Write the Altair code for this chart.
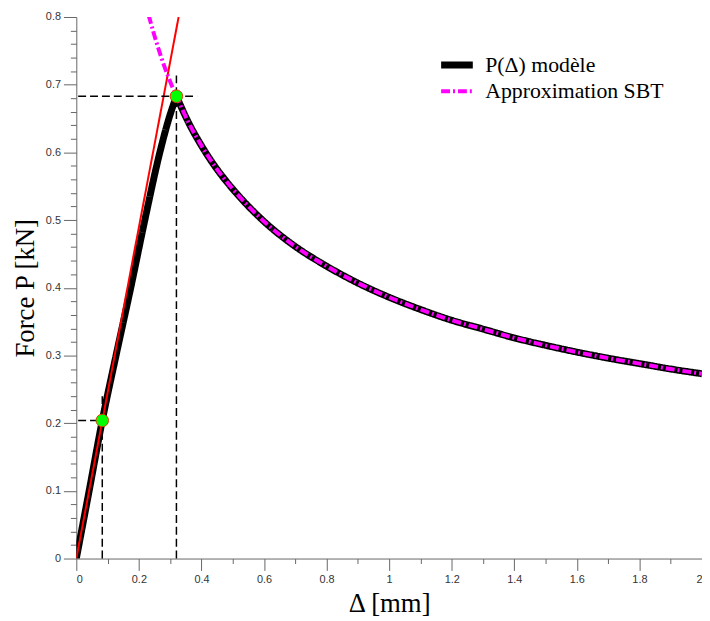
import altair as alt
import pandas as pd

series_names = ["P(Δ) modèle", "Approximation SBT"]

# Model curve: rising branch and post-peak branch
rise_x = [0.0, 0.041, 0.083, 0.127, 0.174, 0.219, 0.267, 0.296, 0.32]
rise_y = [0.0, 0.100, 0.204, 0.300, 0.400, 0.500, 0.600, 0.650, 0.683]

decay_x = [0.32, 0.36, 0.40, 0.45, 0.50, 0.60, 0.70, 0.80, 0.90, 1.00,
           1.10, 1.20, 1.30, 1.40, 1.50, 1.60, 1.70, 1.80, 1.90, 2.00]
decay_y = [0.683, 0.643, 0.610, 0.575, 0.546, 0.498, 0.461, 0.432, 0.407, 0.386,
           0.368, 0.352, 0.339, 0.326, 0.315, 0.305, 0.296, 0.288, 0.280, 0.273]

# SBT approximation
sbt_x = [0.231, 0.25, 0.28, 0.304, 0.32, 0.36, 0.40, 0.45, 0.50, 0.60, 0.70, 0.80,
         0.90, 1.00, 1.10, 1.20, 1.30, 1.40, 1.50, 1.60, 1.70, 1.80, 1.90, 2.00]
sbt_y = [0.803, 0.772, 0.729, 0.700, 0.683, 0.643, 0.610, 0.575, 0.546, 0.498, 0.461,
         0.432, 0.407, 0.386, 0.368, 0.352, 0.339, 0.326, 0.315, 0.305, 0.296, 0.288,
         0.280, 0.273]

# Initial tangent (red)
tangent_x = [0.0, 0.327]
tangent_y = [0.0, 0.8]

# Key points (green)
key_x = [0.083, 0.32]
key_y = [0.204, 0.683]

# Dashed guides
guide_h_x1 = [0.006, 0.006]
guide_h_x2 = [0.083, 0.386]
guide_v_y2 = [0.245, 0.718]

# Ticks
x_major_ticks = [0, 0.2, 0.4, 0.6, 0.8, 1.0, 1.2, 1.4, 1.6, 1.8, 2.0]
x_minor_ticks = [0.1, 0.3, 0.5, 0.7, 0.9, 1.1, 1.3, 1.5, 1.7, 1.9]
y_major_ticks = [0, 0.1, 0.2, 0.3, 0.4, 0.5, 0.6, 0.7, 0.8]
y_minor_ticks = [round(i * 0.02, 2) for i in range(41) if i % 5 != 0]

black_df = pd.DataFrame({
    "x": rise_x + decay_x,
    "y": rise_y + decay_y,
    "serie": series_names[0],
    "part": ["rise"] * len(rise_x) + ["decay"] * len(decay_x),
})
sbt_df = pd.DataFrame({"x": sbt_x, "y": sbt_y, "serie": series_names[1]})
tan_df = pd.DataFrame({"x": tangent_x, "y": tangent_y})
key_df = pd.DataFrame({"x": key_x, "y": key_y})
hguide_df = pd.DataFrame({"x": guide_h_x1, "x2": guide_h_x2, "y": key_y})
vguide_df = pd.DataFrame({"x": key_x, "y": [0, 0], "y2": guide_v_y2})

xs = alt.Scale(domain=[0, 2], nice=False, zero=False)
ys = alt.Scale(domain=[0, 0.8], nice=False, zero=False)

lab = dict(labelFont="Liberation Sans", labelFontSize=11, labelColor="#333333",
           domainColor="#666666", tickColor="#666666", grid=False,
           titleFont="Liberation Serif", titleFontSize=27, titleFontWeight="normal",
           titleColor="black")

x_major = alt.Axis(values=x_major_ticks, tickSize=12, format="~g", labelPadding=3,
                   title="Δ [mm]", titlePadding=6, orient="bottom", **lab)
y_major = alt.Axis(values=y_major_ticks, tickSize=13, format="~g", labelPadding=3,
                   title="Force P [kN]", titlePadding=6, orient="left", **lab)
x_minor = alt.Axis(values=x_minor_ticks, tickSize=5, labels=False, domain=False,
                   tickColor="#666666", grid=False, title=None, orient="bottom")
y_minor = alt.Axis(values=y_minor_ticks, tickSize=6, labels=False, domain=False,
                   tickColor="#666666", grid=False, title=None, orient="left")

color_scale = alt.Scale(domain=series_names, range=["black", "#ff00ff"])
dash_scale = alt.Scale(domain=series_names, range=[[1, 0], [9, 3, 2, 3]])
width_scale = alt.Scale(domain=series_names, range=[7, 4])

legend = alt.Legend(
    title=None, orient="none", legendX=371, legendY=35, padding=0,
    labelFont="Liberation Serif", labelFontSize=22, labelColor="black",
    labelLimit=400, symbolType="M-1.6,0H1.6", symbolSize=400, labelOffset=15,
    rowPadding=-1,
)


def series_enc():
    return dict(
        color=alt.Color("serie:N", scale=color_scale, legend=legend),
        strokeDash=alt.StrokeDash("serie:N", scale=dash_scale, legend=legend),
        strokeWidth=alt.StrokeWidth("serie:N", scale=width_scale, legend=legend),
    )


black = alt.Chart(black_df).mark_line(interpolate="monotone", clip=True).encode(
    x=alt.X("x:Q", scale=xs, axis=x_major),
    y=alt.Y("y:Q", scale=ys, axis=y_major),
    detail="part:N",
    **series_enc(),
)

red = alt.Chart(tan_df).mark_line(color="#ff0000", strokeWidth=2, clip=True).encode(
    x=alt.X("x:Q", scale=xs, axis=None),
    y=alt.Y("y:Q", scale=ys, axis=None),
)

sbt = alt.Chart(sbt_df).mark_line(interpolate="monotone", clip=True).encode(
    x=alt.X("x:Q", scale=xs, axis=None),
    y=alt.Y("y:Q", scale=ys, axis=None),
    **series_enc(),
)

hguide = alt.Chart(hguide_df).mark_rule(color="black", strokeWidth=1.5, strokeDash=[8, 4]).encode(
    x=alt.X("x:Q", scale=xs, axis=None),
    x2="x2:Q",
    y=alt.Y("y:Q", scale=ys, axis=None),
)

vguide = alt.Chart(vguide_df).mark_rule(color="black", strokeWidth=1.5, strokeDash=[8, 4]).encode(
    x=alt.X("x:Q", scale=xs, axis=None),
    y=alt.Y("y:Q", scale=ys, axis=None),
    y2="y2:Q",
)

points = alt.Chart(key_df).mark_point(filled=True, fill="#00ff00", stroke="#e04000",
                                      strokeWidth=1, size=160, opacity=1).encode(
    x=alt.X("x:Q", scale=xs, axis=x_minor),
    y=alt.Y("y:Q", scale=ys, axis=y_minor),
)

chart = alt.layer(black, red, sbt, hguide, vguide, points).resolve_axis(
    x="independent", y="independent"
).properties(
    width=632, height=547,
    autosize=alt.AutoSizeParams(type="none"),
    padding={"left": 69, "top": 6, "right": 0, "bottom": 60},
).configure_view(stroke=None)

chart.save("out.html", embed_options={"renderer": "svg", "actions": False})
